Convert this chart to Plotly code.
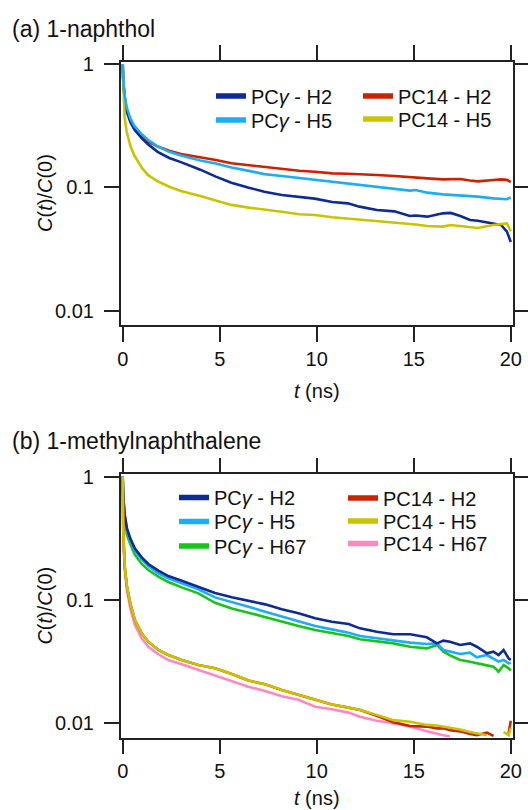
import plotly.graph_objects as go

FONT = "Liberation Sans, Arial, Helvetica, sans-serif"

# ---------------- data: panel (a) 1-naphthol ----------------
t_a = [0, 0.03, 0.1, 0.2, 0.4, 0.6, 1.0, 1.3, 1.8, 2.4, 3.0, 4.0, 4.8, 5.6, 6.5, 7.3,
       8.2, 9.1, 9.9, 10.8, 11.6, 12.2, 13.1, 14.0, 14.8, 15.1, 15.7, 16.5, 16.9, 17.4,
       17.9, 18.3, 19.1, 19.5, 19.8, 20.0]
a_pcg_h2 = [1.0, 0.72, 0.51, 0.415, 0.338, 0.295, 0.248, 0.224, 0.194, 0.173, 0.160, 0.139,
            0.122, 0.109, 0.0993, 0.0922, 0.0866, 0.0840, 0.0809, 0.0760, 0.0741, 0.0697,
            0.0655, 0.0638, 0.0585, 0.0590, 0.0578, 0.0615, 0.0620, 0.0585, 0.0543, 0.0536,
            0.0510, 0.0495, 0.0437, 0.0360]
a_pcg_h5 = [1.0, 0.75, 0.56, 0.45, 0.36, 0.315, 0.268, 0.243, 0.215, 0.194, 0.181, 0.165,
            0.156, 0.145, 0.136, 0.128, 0.1235, 0.119, 0.1146, 0.1104, 0.1077, 0.1037,
            0.0999, 0.0963, 0.0940, 0.0951, 0.0905, 0.0877, 0.0870, 0.0855, 0.0845, 0.0840,
            0.0814, 0.0805, 0.0800, 0.0829]
a_pc14_h2 = [1.0, 0.72, 0.54, 0.43, 0.345, 0.300, 0.257, 0.236, 0.214, 0.198, 0.186, 0.176,
             0.1665, 0.1565, 0.1508, 0.1452, 0.1398, 0.1364, 0.1339, 0.1298, 0.1290, 0.1282,
             0.1258, 0.1235, 0.1205, 0.1195, 0.1182, 0.1160, 0.1165, 0.1168, 0.1135, 0.1118,
             0.1146, 0.1160, 0.1150, 0.1104]
a_pc14_h5 = [1.0, 0.62, 0.37, 0.285, 0.215, 0.181, 0.143, 0.126, 0.112, 0.101, 0.0935, 0.0850,
             0.0780, 0.0720, 0.0684, 0.0663, 0.0634, 0.0605, 0.0596, 0.0571, 0.0557, 0.0550,
             0.0533, 0.0517, 0.0504, 0.0500, 0.0485, 0.0480, 0.0495, 0.0485, 0.0470, 0.0468,
             0.0495, 0.0500, 0.0510, 0.0440]

# ---------------- data: panel (b) 1-methylnaphthalene ----------------
t_b = [0, 0.03, 0.1, 0.22, 0.39, 0.63, 0.98, 1.32, 1.84, 2.35, 3.04, 3.9, 4.76, 5.62, 6.48,
       7.34, 8.2, 9.06, 9.92, 10.78, 11.64, 12.23, 13.09, 13.95, 14.81, 15.67, 16.19, 16.53,
       16.87, 17.39, 17.9, 18.25, 18.77, 19.11, 19.37, 19.63, 19.89, 20.0]
b_pcg_h2 = [1.0, 0.70, 0.50, 0.381, 0.316, 0.262, 0.222, 0.196, 0.173, 0.1565, 0.1434, 0.1282,
            0.1140, 0.1051, 0.0988, 0.0922, 0.0840, 0.0780, 0.0710, 0.0667, 0.0639, 0.0589,
            0.0553, 0.0527, 0.0527, 0.0498, 0.0445, 0.0468, 0.0459, 0.0432, 0.0445, 0.0418,
            0.0369, 0.0381, 0.0358, 0.0393, 0.0336, 0.0326]
b_pcg_h5 = [1.0, 0.68, 0.49, 0.370, 0.305, 0.251, 0.214, 0.189, 0.1645, 0.1498, 0.1365, 0.1221,
            0.1050, 0.0969, 0.0883, 0.0804, 0.0732, 0.0667, 0.0615, 0.0578, 0.0543, 0.0511,
            0.0489, 0.0468, 0.0451, 0.0440, 0.0445, 0.0393, 0.0380, 0.0365, 0.0374, 0.0343,
            0.0358, 0.0336, 0.0316, 0.0326, 0.0306, 0.0310]
b_pcg_h67 = [1.0, 0.65, 0.47, 0.337, 0.285, 0.232, 0.196, 0.175, 0.1546, 0.140, 0.1266, 0.1132,
             0.0950, 0.0855, 0.0789, 0.0724, 0.0667, 0.0615, 0.0571, 0.0537, 0.0510, 0.0480,
             0.0459, 0.0445, 0.0418, 0.0405, 0.0432, 0.0381, 0.0355, 0.0326, 0.0316, 0.0306,
             0.0295, 0.0288, 0.0262, 0.0297, 0.0279, 0.0267]
b_pc14_h2 = [1.0, 0.36, 0.19, 0.128, 0.094, 0.0688, 0.0537, 0.0459, 0.0393, 0.0358, 0.0326,
             0.0297, 0.0279, 0.0251, 0.0222, 0.0207, 0.0186, 0.0170, 0.0156, 0.0142, 0.0134,
             0.0128, 0.0115, 0.0102, 0.0095, 0.0094, 0.0091, 0.0091, 0.0088, 0.0086, 0.0082,
             0.0080, 0.0084, 0.0079, None, None, 0.0083, 0.0105]
b_pc14_h5 = [1.0, 0.36, 0.19, 0.128, 0.094, 0.0688, 0.0537, 0.0459, 0.0393, 0.0358, 0.0326,
             0.0297, 0.0279, 0.0251, 0.0222, 0.0207, 0.0186, 0.0170, 0.0156, 0.0142, 0.0134,
             0.0128, 0.0117, 0.0106, 0.0103, 0.0097, 0.0096, 0.0094, 0.0093, 0.0089, 0.0085,
             0.0083, 0.0080, None, None, 0.0085, 0.0080, 0.0092]
b_pc14_h67 = [1.0, 0.33, 0.18, 0.119, 0.0856, 0.0627, 0.0489, 0.0418, 0.0363, 0.0326, 0.0301,
              0.0271, 0.0246, 0.0222, 0.0198, 0.0183, 0.0166, 0.0155, 0.0136, 0.0130, 0.0122,
              0.0113, 0.0105, 0.0100, 0.0094, 0.0086, 0.0083, 0.0080, 0.0078, None, None, None,
              None, None, None, None, None, None]

# tick labels
x_tickvals = [0, 5, 10, 15, 20]
x_ticktext = ["0", "5", "10", "15", "20"]
y_tickvals = [1, 0.1, 0.01]
y_ticktext = ["1", "0.1", "0.01"]

# names / colours
NAME_PCG_H2 = "PC<i>γ</i> - H2"
NAME_PCG_H5 = "PC<i>γ</i> - H5"
NAME_PCG_H67 = "PC<i>γ</i> - H67"
NAME_PC14_H2 = "PC14 - H2"
NAME_PC14_H5 = "PC14 - H5"
NAME_PC14_H67 = "PC14 - H67"
C_DBLUE = "#0c2a98"
C_LBLUE = "#1aaef5"
C_GREEN = "#18c418"
C_RED = "#cc2200"
C_YEL = "#cac400"
C_PINK = "#ff88c2"

W, H = 528, 810


def px_x(p):
    return p / W


def px_y(p):
    return 1 - p / H


fig = go.Figure()

# panel (a) curves (draw order: red, dark blue, yellow, light blue)
for y, c in [(a_pc14_h2, C_RED), (a_pcg_h2, C_DBLUE), (a_pc14_h5, C_YEL), (a_pcg_h5, C_LBLUE)]:
    fig.add_trace(go.Scatter(x=t_a, y=y, mode="lines", line=dict(color=c, width=2.6),
                             showlegend=False, xaxis="x", yaxis="y", connectgaps=False))

# panel (b) curves
for y, c in [(b_pcg_h67, C_GREEN), (b_pcg_h5, C_LBLUE), (b_pcg_h2, C_DBLUE),
             (b_pc14_h67, C_PINK), (b_pc14_h2, C_RED), (b_pc14_h5, C_YEL)]:
    fig.add_trace(go.Scatter(x=t_b, y=y, mode="lines", line=dict(color=c, width=2.6),
                             showlegend=False, xaxis="x2", yaxis="y2", connectgaps=False))

# legend entries: (name, colour, axes, text-left px, row-centre px)
legend_items = [
    (NAME_PCG_H2, C_DBLUE, "x", "y", 251, 96),
    (NAME_PCG_H5, C_LBLUE, "x", "y", 251, 120),
    (NAME_PC14_H2, C_RED, "x", "y", 398, 96),
    (NAME_PC14_H5, C_YEL, "x", "y", 398, 119),
    (NAME_PCG_H2, C_DBLUE, "x2", "y2", 214, 497.5),
    (NAME_PCG_H5, C_LBLUE, "x2", "y2", 214, 521.5),
    (NAME_PCG_H67, C_GREEN, "x2", "y2", 214, 546),
    (NAME_PC14_H2, C_RED, "x2", "y2", 383, 498),
    (NAME_PC14_H5, C_YEL, "x2", "y2", 383, 521),
    (NAME_PC14_H67, C_PINK, "x2", "y2", 383, 543.5),
]
legend_layouts = {}
for i, (nm, c, xa, ya, tx, ty) in enumerate(legend_items):
    lid = "legend" if i == 0 else f"legend{i + 1}"
    fig.add_trace(go.Scatter(x=[None], y=[None], mode="lines", name=nm,
                             line=dict(color=c, width=5.5), xaxis=xa, yaxis=ya,
                             showlegend=True, legend=lid))
    legend_layouts[lid] = dict(
        x=px_x(tx - 40), y=px_y(ty), xanchor="left", yanchor="middle",
        bgcolor="rgba(0,0,0,0)", borderwidth=0, itemwidth=30,
        font=dict(family=FONT, size=20, color="#111"),
    )

axis_common = dict(
    showline=True, linewidth=1.5, linecolor="#222", mirror="allticks",
    ticks="outside", ticklen=15, tickwidth=1.5, tickcolor="#222",
    showgrid=False, zeroline=False, automargin=False,
    tickfont=dict(family=FONT, size=20, color="#111"),
)

xdom = [px_x(120.7), px_x(513.3)]
xr = [-0.103, 20.13]
yr = [-2.117, 0.019]

fig.update_layout(
    width=W, height=H,
    margin=dict(l=0, r=0, t=0, b=0, autoexpand=False),
    paper_bgcolor="white", plot_bgcolor="white",
    xaxis=dict(domain=xdom, range=xr, anchor="y", tickvals=x_tickvals, ticktext=x_ticktext,
               ticklabelstandoff=0, **axis_common),
    yaxis=dict(domain=[px_y(325), px_y(61.7)], type="log", range=yr, anchor="x",
               tickvals=y_tickvals, ticktext=y_ticktext, ticklabelstandoff=6, **axis_common),
    xaxis2=dict(domain=xdom, range=xr, anchor="y2", tickvals=x_tickvals, ticktext=x_ticktext,
                ticklabelstandoff=0, **axis_common),
    yaxis2=dict(domain=[px_y(737.7), px_y(474.4)], type="log", range=yr, anchor="x2",
                tickvals=y_tickvals, ticktext=y_ticktext, ticklabelstandoff=6, **axis_common),
    **legend_layouts,
)

ann_font = dict(family=FONT, size=23, color="#111")
lab_font = dict(family=FONT, size=20, color="#111")
annotations = [
    dict(text="(a) 1-naphthol", x=px_x(10), y=px_y(28.5), xanchor="left", yanchor="middle",
         font=ann_font),
    dict(text="(b) 1-methylnaphthalene", x=px_x(10), y=px_y(441.3), xanchor="left",
         yanchor="middle", font=ann_font),
    dict(text="<i>C</i>(<i>t</i>)/<i>C</i>(0)", x=px_x(45.5), y=px_y(193.4), textangle=-90,
         xanchor="center", yanchor="middle", font=lab_font),
    dict(text="<i>C</i>(<i>t</i>)/<i>C</i>(0)", x=px_x(45.5), y=px_y(606.1), textangle=-90,
         xanchor="center", yanchor="middle", font=lab_font),
    dict(text="<i>t</i> (ns)", x=px_x(317), y=px_y(390.6), xanchor="center", yanchor="middle",
         font=lab_font),
    dict(text="<i>t</i> (ns)", x=px_x(317), y=px_y(798), xanchor="center", yanchor="middle",
         font=lab_font),
]
for a in annotations:
    a.update(xref="paper", yref="paper", showarrow=False)
fig.update_layout(annotations=annotations)

fig.write_html("out.html", config={"displayModeBar": False},
               post_script="document.body.style.margin='0px';")
